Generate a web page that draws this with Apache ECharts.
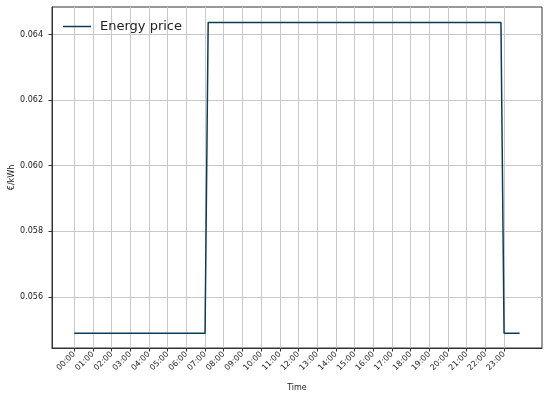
<!DOCTYPE html>
<html>
<head>
<meta charset="utf-8">
<script src="https://cdn.jsdelivr.net/npm/echarts@6/dist/echarts.min.js"></script>
<style>
  html, body { margin: 0; padding: 0; background: #fff; }
  #chart { width: 550px; height: 398px; }
</style>
</head>
<body>
<div id="chart"></div>
<script>
// price change points (10 min resolution)
var times = ['00:00', '07:00', '07:10', '22:50', '23:00', '23:50'];
var prices = [0.05489, 0.05489, 0.06437, 0.06437, 0.05489, 0.05489];
var hourLabels = ['00:00', '01:00', '02:00', '03:00', '04:00', '05:00', '06:00', '07:00',
  '08:00', '09:00', '10:00', '11:00', '12:00', '13:00', '14:00', '15:00', '16:00',
  '17:00', '18:00', '19:00', '20:00', '21:00', '22:00', '23:00'];
var yTicks = [0.056, 0.058, 0.060, 0.062, 0.064];

function toHours(t) {
  var p = t.split(':');
  return Number(p[0]) + Number(p[1]) / 60;
}
var hourTicks = hourLabels.map(toHours);
var seriesData = times.map(function (t, i) { return [toHours(t), prices[i]]; });

var chart = echarts.init(document.getElementById('chart'), null, { renderer: 'canvas' });
var txt = '#222';
var option = {
  animation: false,
  textStyle: { fontFamily: 'DejaVu Sans' },
  grid: {
    left: 52, right: 8, top: 7, bottom: 50,
    outerBoundsMode: 'none', containLabel: false,
    show: true, borderColor: '#333', borderWidth: 1
  },
  legend: {
    left: 58, top: 15,
    icon: 'rect', itemWidth: 28, itemHeight: 1.5, itemGap: 10,
    textStyle: { fontSize: 13, color: txt, fontFamily: 'DejaVu Sans', padding: [0, 0, 0, 4] },
    data: ['Energy price']
  },
  xAxis: {
    type: 'value',
    min: -1.19, max: 25.03,
    name: 'Time', nameLocation: 'middle', nameGap: 36, nameMoveOverlap: false,
    nameTextStyle: { fontSize: 8, color: txt },
    axisLine: { show: true, onZero: false, lineStyle: { color: '#333', width: 1 } },
    axisTick: { show: true, length: 3.5, customValues: hourTicks, lineStyle: { color: '#333' } },
    axisLabel: {
      customValues: hourTicks, rotate: 45, fontSize: 8, color: txt, margin: 5,
      formatter: function (v) { return hourLabels[hourTicks.indexOf(v)] || ''; }
    },
    splitLine: { show: true, lineStyle: { color: '#c8c8c8', width: 1 } }
  },
  yAxis: {
    type: 'value',
    min: 0.054436, max: 0.064845,
    name: '€/kWh', nameLocation: 'middle', nameGap: 36, nameMoveOverlap: false,
    nameTextStyle: { fontSize: 8, color: txt },
    axisLine: { show: true, onZero: false, lineStyle: { color: '#333', width: 1 } },
    axisTick: { show: true, length: 3.5, customValues: yTicks, lineStyle: { color: '#333' } },
    axisLabel: {
      customValues: yTicks, fontSize: 8, color: txt, margin: 9,
      formatter: function (v) { return v.toFixed(3); }
    },
    splitLine: { show: true, lineStyle: { color: '#c8c8c8', width: 1 } }
  },
  series: [{
    name: 'Energy price',
    type: 'line',
    symbol: 'none',
    data: seriesData,
    itemStyle: { color: '#0e3a55' },
    lineStyle: { color: '#0e3a55', width: 1.5 }
  }]
};
chart.setOption(option);
</script>
</body>
</html>
